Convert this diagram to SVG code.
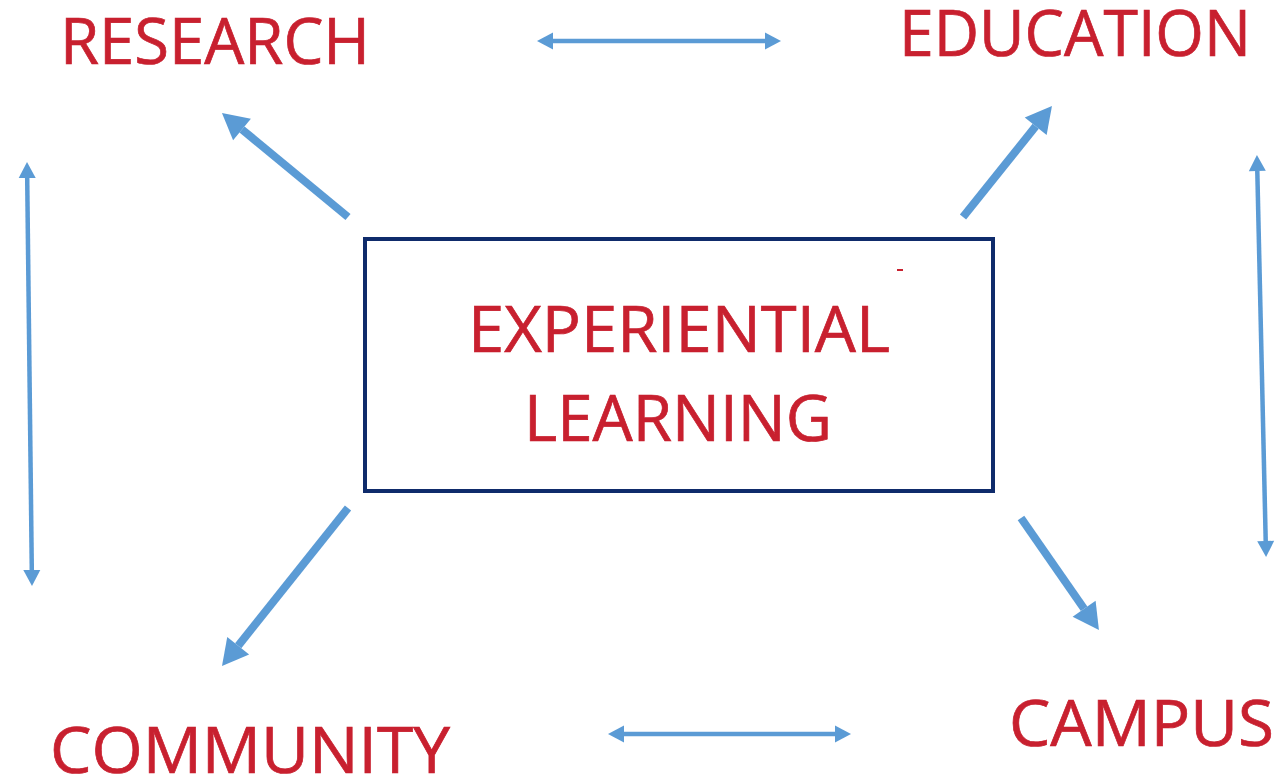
<svg xmlns="http://www.w3.org/2000/svg" width="1278" height="780" viewBox="0 0 1278 780">
  <style>
    .lbl { font-family: "Open Sans", "Noto Sans", "Liberation Sans", sans-serif; fill: #c8202f; stroke: #c8202f; stroke-width: 0.7px; font-size: 64px; }
    .thick { stroke: #5b9bd5; stroke-width: 8; fill: none; marker-end: url(#bigHead); }
    .thin { stroke: #5b9bd5; stroke-width: 4.5; fill: none; marker-start: url(#smallHead); marker-end: url(#smallHead); }
  </style>
  <defs>
    <marker id="bigHead" markerUnits="userSpaceOnUse" markerWidth="30" markerHeight="30" refX="0" refY="0" orient="auto" overflow="visible" viewBox="0 -15 30 30">
      <path d="M0,-14 L26,0 L0,14 z" fill="#5b9bd5"/>
    </marker>
    <marker id="smallHead" markerUnits="userSpaceOnUse" markerWidth="20" markerHeight="20" refX="0" refY="0" orient="auto-start-reverse" overflow="visible" viewBox="0 -10 20 20">
      <path d="M0,-8.5 L16,0 L0,8.5 z" fill="#5b9bd5"/>
    </marker>
  </defs>
  <rect width="1278" height="780" fill="#ffffff"/>

  <g id="connectors">
    <line class="thick" x1="348" y1="217" x2="242" y2="129.5"/>
    <line class="thick" x1="963" y1="217" x2="1035.7" y2="126.3"/>
    <line class="thick" x1="348" y1="508" x2="238.2" y2="645.7"/>
    <line class="thick" x1="1021" y1="518" x2="1084.1" y2="608.7"/>
    <line class="thin" x1="553" y1="41" x2="765" y2="41"/>
    <line class="thin" x1="624" y1="734" x2="835" y2="734"/>
    <line class="thin" x1="27.2" y1="178" x2="31.8" y2="570"/>
    <line class="thin" x1="1257.3" y1="171" x2="1265.7" y2="541"/>
  </g>

  <g id="center">
    <rect x="365" y="239" width="628" height="252" fill="#ffffff" stroke="#0f2b6b" stroke-width="4"/>
    <text class="lbl" x="468" y="352" font-size="66" textLength="422" lengthAdjust="spacingAndGlyphs">EXPERIENTIAL</text>
    <text class="lbl" x="524" y="441" font-size="66" textLength="308" lengthAdjust="spacingAndGlyphs">LEARNING</text>
    <rect x="897" y="269" width="6" height="2" fill="#c8202f"/>
  </g>

  <g id="research">
    <text class="lbl" x="60" y="64" textLength="310" lengthAdjust="spacingAndGlyphs">RESEARCH</text>
  </g>
  <g id="education">
    <text class="lbl" x="899" y="56" textLength="352" lengthAdjust="spacingAndGlyphs">EDUCATION</text>
  </g>
  <g id="community">
    <text class="lbl" x="50" y="773" textLength="400" lengthAdjust="spacingAndGlyphs">COMMUNITY</text>
  </g>
  <g id="campus">
    <text class="lbl" x="1009" y="746" textLength="265" lengthAdjust="spacingAndGlyphs">CAMPUS</text>
  </g>
</svg>
